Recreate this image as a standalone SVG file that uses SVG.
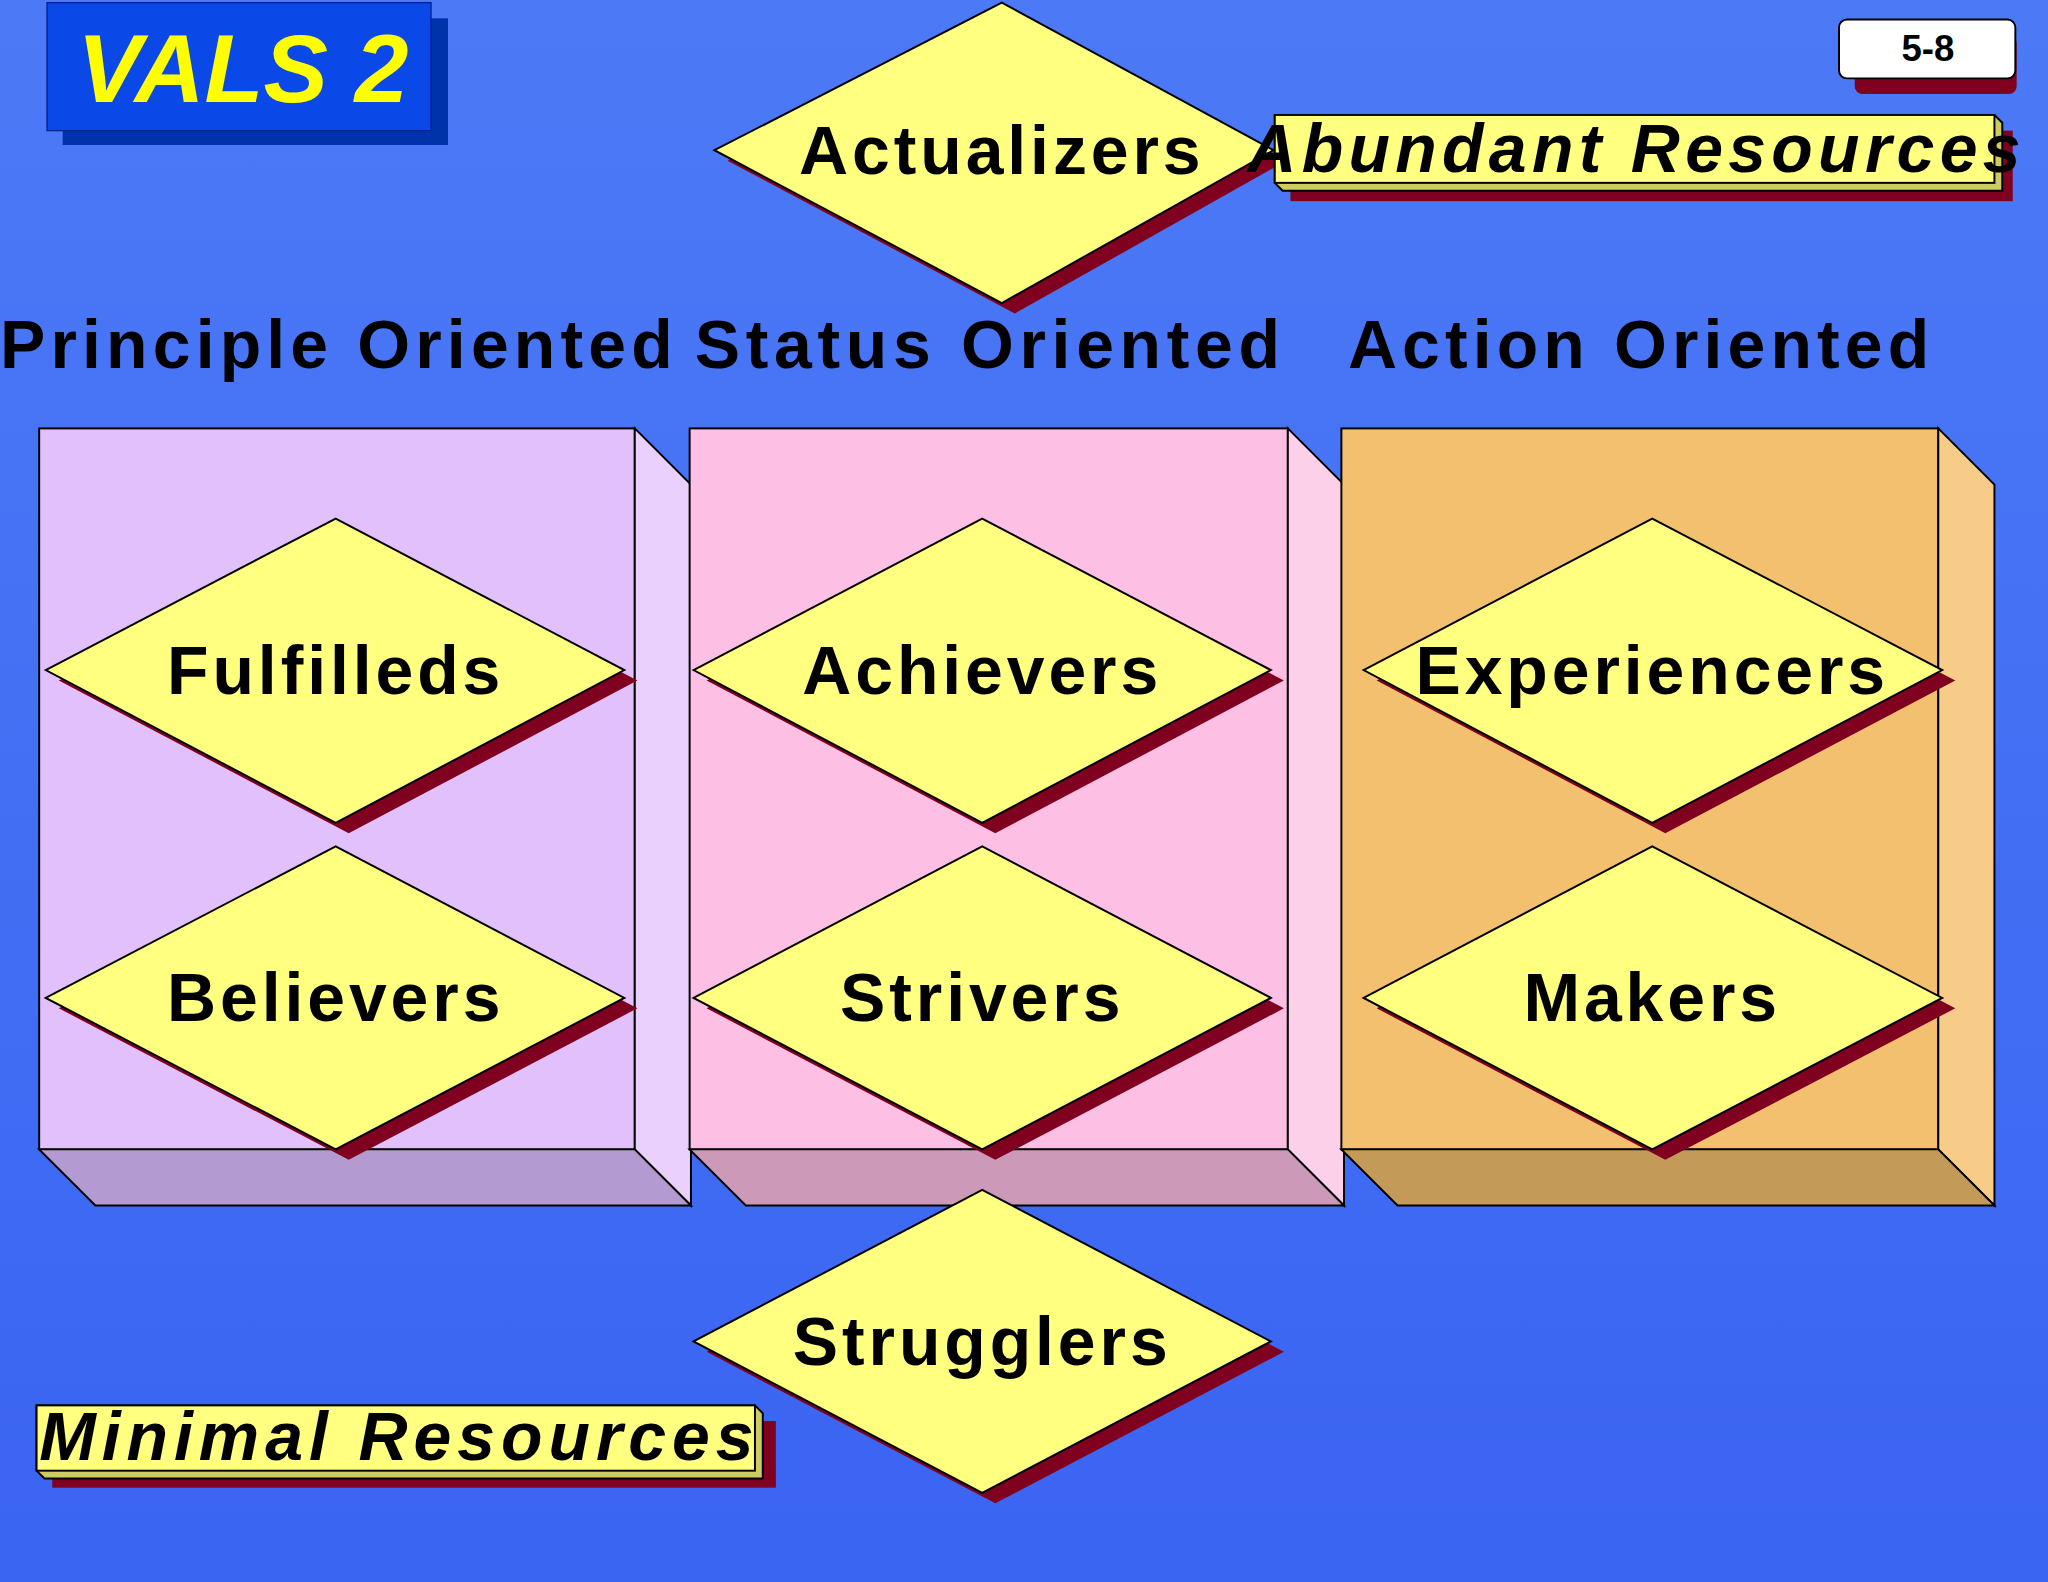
<svg xmlns="http://www.w3.org/2000/svg" width="2048" height="1582" viewBox="0 0 2048 1582">
<defs>
<linearGradient id="bg" x1="0" y1="0" x2="0" y2="1"><stop offset="0" stop-color="#4c7af6"/><stop offset="1" stop-color="#3a64f2"/></linearGradient>
<style>
.dia{fill:#ffff80;stroke:#000;stroke-width:1.5}
.sh{fill:#800020}
.lbl{font-family:"Liberation Sans",Arial,sans-serif;font-weight:bold;font-size:52px;letter-spacing:3px;text-anchor:middle;fill:#000}
.cat{font-family:"Liberation Sans",Arial,sans-serif;font-weight:bold;font-size:52px;fill:#000}
.res{font-family:"Liberation Sans",Arial,sans-serif;font-weight:bold;font-style:italic;font-size:52px}
.edge{stroke:#000;stroke-width:1.5}
</style>
</defs>
<rect width="2048" height="1582" fill="url(#bg)"/>
<g transform="scale(1.30612)">
<g id="title">
<rect x="48" y="14" width="295" height="97" fill="#0033aa"/>
<rect x="36" y="2" width="294" height="98" fill="#0a48e8" stroke="#002090" stroke-width="1"/>
<text x="186" y="78" text-anchor="middle" font-family="Liberation Sans,Arial,sans-serif" font-weight="bold" font-style="italic" font-size="74" fill="#ffff00">VALS 2</text>
</g>
<g id="pagenum">
<rect x="1420" y="27" width="124" height="45" rx="6" fill="#800020"/>
<rect x="1408" y="15" width="135" height="45" rx="6" fill="#fff" stroke="#000" stroke-width="1.5"/>
<text x="1476" y="47" text-anchor="middle" font-family="Liberation Sans,Arial,sans-serif" font-weight="bold" font-size="28">5-8</text>
</g>
<g id="box-principle">
<rect x="30" y="328" width="456" height="552" fill="#e2c0fb" class="edge"/>
<polygon points="486,328 529,371 529,923 486,880" fill="#e9d0fd" class="edge"/>
<polygon points="30,880 486,880 529,923 73,923" fill="#b39ad0" class="edge"/>
</g>
<g id="box-status">
<rect x="528" y="328" width="458" height="552" fill="#fdc0e4" class="edge"/>
<polygon points="986,328 1029,371 1029,923 986,880" fill="#fdd0ea" class="edge"/>
<polygon points="528,880 986,880 1029,923 571,923" fill="#cc9ab8" class="edge"/>
</g>
<g id="box-action">
<rect x="1027" y="328" width="457" height="552" fill="#f3c070" class="edge"/>
<polygon points="1484,328 1527,371 1527,923 1484,880" fill="#f6cc88" class="edge"/>
<polygon points="1027,880 1484,880 1527,923 1070,923" fill="#c49a58" class="edge"/>
</g>
<g id="categories">
<text class="cat" x="0" y="282" textLength="515" lengthAdjust="spacing">Principle Oriented</text>
<text class="cat" x="532" y="282" textLength="448" lengthAdjust="spacing">Status Oriented</text>
<text class="cat" x="1032" y="282" textLength="445" lengthAdjust="spacing">Action Oriented</text>
</g>
<g id="actualizers">
<polygon class="sh" points="557,123 777,10 985,123 777,240"/>
<polygon class="dia" points="547,115 767,2 975,115 767,232"/>
<text class="lbl" x="767" y="133">Actualizers</text>
</g>
<g id="abundant">
<rect x="988" y="100" width="553" height="54" fill="#800020"/>
<polygon points="976,88 1527,88 1533,94 1533,146 982,146 976,140" fill="#cccc60" class="edge"/>
<rect x="976" y="88" width="551" height="52" fill="#ffff80" class="edge"/>
<text class="res" x="955" y="132" textLength="592" lengthAdjust="spacing" fill="#000">Abundant Resources</text>
</g>
<g id="fulfilleds">
<polygon class="sh" points="45,521 267,405 488,521 267,638"/>
<polygon class="dia" points="35,513 257,397 478,513 257,630"/>
<text class="lbl" x="257" y="531">Fulfilleds</text>
</g>
<g id="believers">
<polygon class="sh" points="45,772 267,656 488,772 267,888"/>
<polygon class="dia" points="35,764 257,648 478,764 257,880"/>
<text class="lbl" x="257" y="782">Believers</text>
</g>
<g id="achievers">
<polygon class="sh" points="541,521 762,405 983,521 762,638"/>
<polygon class="dia" points="531,513 752,397 973,513 752,630"/>
<text class="lbl" x="752" y="531">Achievers</text>
</g>
<g id="strivers">
<polygon class="sh" points="541,772 762,656 983,772 762,888"/>
<polygon class="dia" points="531,764 752,648 973,764 752,880"/>
<text class="lbl" x="752" y="782">Strivers</text>
</g>
<g id="experiencers">
<polygon class="sh" points="1054,521 1275,405 1497,521 1275,638"/>
<polygon class="dia" points="1044,513 1265,397 1487,513 1265,630"/>
<text class="lbl" x="1265" y="531">Experiencers</text>
</g>
<g id="makers">
<polygon class="sh" points="1054,772 1275,656 1497,772 1275,888"/>
<polygon class="dia" points="1044,764 1265,648 1487,764 1265,880"/>
<text class="lbl" x="1265" y="782">Makers</text>
</g>
<g id="strugglers">
<polygon class="sh" points="541,1035 762,919 983,1035 762,1151"/>
<polygon class="dia" points="531,1027 752,911 973,1027 752,1143"/>
<text class="lbl" x="752" y="1045">Strugglers</text>
</g>
<g id="minimal">
<rect x="40" y="1088" width="554" height="51" fill="#800020"/>
<polygon points="28,1076 578,1076 584,1082 584,1132 34,1132 28,1126" fill="#cccc60" class="edge"/>
<rect x="28" y="1076" width="550" height="50" fill="#ffff80" class="edge"/>
<text class="res" x="30" y="1118" textLength="547" lengthAdjust="spacing" fill="#000">Minimal Resources</text>
</g>
<g id="connectors"/>
</g>
</svg>
